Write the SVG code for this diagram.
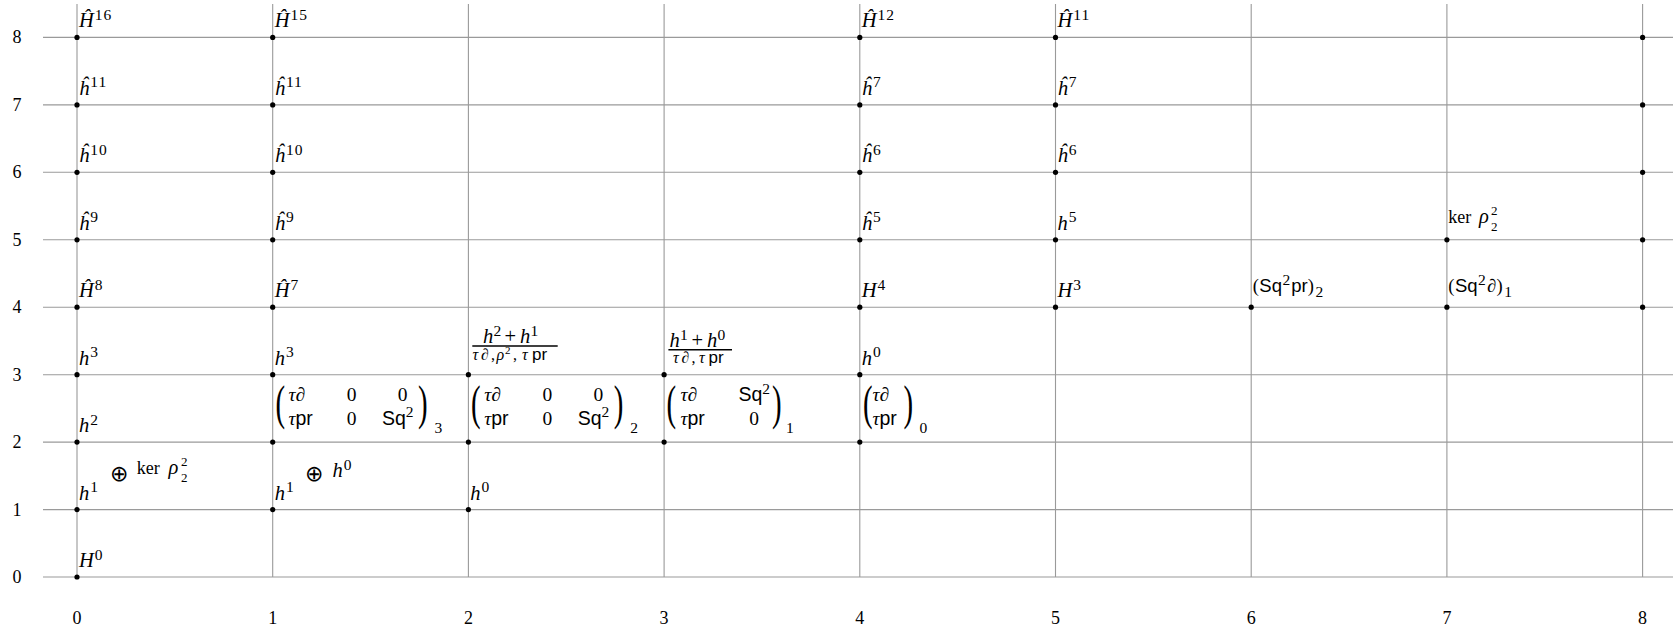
<svg xmlns="http://www.w3.org/2000/svg" width="1673" height="629" viewBox="0 0 1673 629">
<style>
.g{stroke:#9a9a9a;stroke-width:1.1;fill:none}
.d{fill:#000}
.t{font-family:"Liberation Serif",serif;font-size:20.5px;fill:#000}
.i{font-style:italic}
.s{font-size:15.5px;font-style:normal;letter-spacing:1px}
.ss{font-size:13px;font-style:normal}
.sf{font-family:"Liberation Sans",sans-serif;font-style:normal}
.ax{font-family:"Liberation Serif",serif;font-size:18px;text-anchor:middle;fill:#000}
.par{font-family:"Liberation Serif",serif;font-size:48px;fill:#000}
.op{font-family:"DejaVu Sans",sans-serif;font-size:22px;text-anchor:middle;fill:#000}
.mid{text-anchor:middle}
.mx{font-size:19.5px}
.f{font-size:16px}
.k{font-size:18px}
.lb{font-size:18.5px}
.fl{stroke:#000;stroke-width:1.5}
</style>
<rect width="1673" height="629" fill="#fff"/>
<g id="connectors">
<path class="g" d="M43 577H1673M43 509.6H1673M43 442.1H1673M43 374.7H1673M43 307.2H1673M43 239.8H1673M43 172.3H1673M43 104.9H1673M43 37.4H1673"/>
<path class="g" d="M77 4V577M272.7 4V577M468.4 4V577M664.1 4V577M859.8 4V577M1055.5 4V577M1251.2 4V577M1446.9 4V577M1642.6 4V577"/>
</g>
<g id="axes">
<text class="ax" x="17" y="583">0</text>
<text class="ax" x="17" y="515.6">1</text>
<text class="ax" x="17" y="448.1">2</text>
<text class="ax" x="17" y="380.7">3</text>
<text class="ax" x="17" y="313.2">4</text>
<text class="ax" x="17" y="245.8">5</text>
<text class="ax" x="17" y="178.3">6</text>
<text class="ax" x="17" y="110.9">7</text>
<text class="ax" x="17" y="43.4">8</text>
<text class="ax" x="77" y="624">0</text>
<text class="ax" x="272.7" y="624">1</text>
<text class="ax" x="468.4" y="624">2</text>
<text class="ax" x="664.1" y="624">3</text>
<text class="ax" x="859.8" y="624">4</text>
<text class="ax" x="1055.5" y="624">5</text>
<text class="ax" x="1251.2" y="624">6</text>
<text class="ax" x="1446.9" y="624">7</text>
<text class="ax" x="1642.6" y="624">8</text>
</g>
<!-- column 0 -->
<g id="n0-0"><circle class="d" cx="77" cy="577" r="2.6"/><text class="t i" x="79" y="567">H<tspan class="s" dx="1" dy="-7.5">0</tspan></text></g>
<g id="n0-1"><circle class="d" cx="77" cy="509.6" r="2.6"/><text class="t i" x="79" y="499.6">h<tspan class="s" dx="1" dy="-7.5">1</tspan></text></g>
<g id="n0-2"><circle class="d" cx="77" cy="442.1" r="2.6"/><text class="t i" x="79" y="432.1">h<tspan class="s" dx="1" dy="-7.5">2</tspan></text></g>
<g id="n0-3"><circle class="d" cx="77" cy="374.7" r="2.6"/><text class="t i" x="79" y="364.7">h<tspan class="s" dx="1" dy="-7.5">3</tspan></text></g>
<g id="n0-4"><circle class="d" cx="77" cy="307.2" r="2.6"/><text class="t i" x="79" y="297.2">Ĥ<tspan class="s" dx="1" dy="-7.5">8</tspan></text></g>
<g id="n0-5"><circle class="d" cx="77" cy="239.8" r="2.6"/><text class="t i" x="79" y="229.8">ĥ<tspan class="s" dx="1" dy="-7.5">9</tspan></text></g>
<g id="n0-6"><circle class="d" cx="77" cy="172.3" r="2.6"/><text class="t i" x="79" y="162.3">ĥ<tspan class="s" dx="1" dy="-7.5">10</tspan></text></g>
<g id="n0-7"><circle class="d" cx="77" cy="104.9" r="2.6"/><text class="t i" x="79" y="94.9">ĥ<tspan class="s" dx="1" dy="-7.5">11</tspan></text></g>
<g id="n0-8"><circle class="d" cx="77" cy="37.4" r="2.6"/><text class="t i" x="79" y="27.4">Ĥ<tspan class="s" dx="1" dy="-7.5">16</tspan></text></g>
<g id="sum0"><text class="op" x="119.2" y="480.5">⊕</text><text class="t k" x="136.7" y="474">ker</text><text class="t i" x="168.5" y="474">ρ</text><text class="t ss" x="181" y="466">2</text><text class="t ss" x="181" y="481.5">2</text></g>
<!-- column 1 -->
<g id="n1-1"><circle class="d" cx="272.7" cy="509.6" r="2.6"/><text class="t i" x="274.7" y="499.6">h<tspan class="s" dx="1" dy="-7.5">1</tspan></text></g>
<g id="n1-2"><circle class="d" cx="272.7" cy="442.1" r="2.6"/></g>
<g id="n1-3"><circle class="d" cx="272.7" cy="374.7" r="2.6"/><text class="t i" x="274.7" y="364.7">h<tspan class="s" dx="1" dy="-7.5">3</tspan></text></g>
<g id="n1-4"><circle class="d" cx="272.7" cy="307.2" r="2.6"/><text class="t i" x="274.7" y="297.2">Ĥ<tspan class="s" dx="1" dy="-7.5">7</tspan></text></g>
<g id="n1-5"><circle class="d" cx="272.7" cy="239.8" r="2.6"/><text class="t i" x="274.7" y="229.8">ĥ<tspan class="s" dx="1" dy="-7.5">9</tspan></text></g>
<g id="n1-6"><circle class="d" cx="272.7" cy="172.3" r="2.6"/><text class="t i" x="274.7" y="162.3">ĥ<tspan class="s" dx="1" dy="-7.5">10</tspan></text></g>
<g id="n1-7"><circle class="d" cx="272.7" cy="104.9" r="2.6"/><text class="t i" x="274.7" y="94.9">ĥ<tspan class="s" dx="1" dy="-7.5">11</tspan></text></g>
<g id="n1-8"><circle class="d" cx="272.7" cy="37.4" r="2.6"/><text class="t i" x="274.7" y="27.4">Ĥ<tspan class="s" dx="1" dy="-7.5">15</tspan></text></g>
<g id="sum1"><text class="op" x="314.3" y="480.5">⊕</text><text class="t i" x="332.5" y="477">h<tspan class="s" dx="1" dy="-7.5">0</tspan></text></g>
<g id="mat3">
<text class="par" transform="translate(275.4,419.3) scale(0.6,1)">(</text>
<text class="t i mx" x="288.5" y="401">τ∂</text>
<text class="t mx" x="288.5" y="424.5"><tspan class="i">τ</tspan><tspan class="sf">pr</tspan></text>
<text class="t mid mx" x="351.7" y="401">0</text>
<text class="t mid mx" x="351.7" y="424.5">0</text>
<text class="t mid mx" x="402.7" y="401">0</text>
<text class="t mx" x="382" y="424.5"><tspan class="sf">Sq</tspan><tspan class="s" dy="-7.5">2</tspan></text>
<text class="par" transform="translate(418,419.3) scale(0.6,1)">)</text>
<text class="t s" x="434.5" y="433">3</text>
</g>
<!-- column 2 -->
<g id="n2-1"><circle class="d" cx="468.4" cy="509.6" r="2.6"/><text class="t i" x="470.2" y="499.6">h<tspan class="s" dx="1" dy="-7.5">0</tspan></text></g>
<g id="n2-2"><circle class="d" cx="468.4" cy="442.1" r="2.6"/></g>
<g id="n2-3"><circle class="d" cx="468.4" cy="374.7" r="2.6"/>
<text class="t i" x="483" y="343.3">h</text><text class="t s" x="493.5" y="336.3">2</text><text class="t" x="504.5" y="343.3">+</text><text class="t i" x="520" y="343.3">h</text><text class="t s" x="530.5" y="336.3">1</text>
<line class="fl" x1="472.3" y1="346" x2="557.7" y2="346"/>
<text class="t i f" x="472.5" y="360">τ</text><text class="t i f" x="481" y="360">∂</text><text class="t f" x="491" y="360">,</text><text class="t i f" x="496.5" y="360">ρ</text><text class="t s" x="505" y="354.3" style="font-size:11px">2</text><text class="t f" x="513" y="360">,</text><text class="t i f" x="522" y="360">τ</text><text class="t sf" x="532" y="360" style="font-size:17px">pr</text>
</g>
<g id="mat2">
<text class="par" transform="translate(471.1,419.3) scale(0.6,1)">(</text>
<text class="t i mx" x="484.2" y="401">τ∂</text>
<text class="t mx" x="484.2" y="424.5"><tspan class="i">τ</tspan><tspan class="sf">pr</tspan></text>
<text class="t mid mx" x="547.4" y="401">0</text>
<text class="t mid mx" x="547.4" y="424.5">0</text>
<text class="t mid mx" x="598.4" y="401">0</text>
<text class="t mx" x="577.7" y="424.5"><tspan class="sf">Sq</tspan><tspan class="s" dy="-7.5">2</tspan></text>
<text class="par" transform="translate(613.7,419.3) scale(0.6,1)">)</text>
<text class="t s" x="630.2" y="433">2</text>
</g>
<!-- column 3 -->
<g id="n3-2"><circle class="d" cx="664.1" cy="442.1" r="2.6"/></g>
<g id="n3-3"><circle class="d" cx="664.1" cy="374.7" r="2.6"/>
<text class="t i" x="669.5" y="347">h</text><text class="t s" x="680" y="340">1</text><text class="t" x="691.5" y="347">+</text><text class="t i" x="707" y="347">h</text><text class="t s" x="717.5" y="340">0</text>
<line class="fl" x1="668.4" y1="349.7" x2="732" y2="349.7"/>
<text class="t i f" x="673" y="363">τ</text><text class="t i f" x="681.5" y="363">∂</text><text class="t f" x="691.5" y="363">,</text><text class="t i f" x="699" y="363">τ</text><text class="t sf" x="708.5" y="363" style="font-size:17px">pr</text>
</g>
<g id="mat1">
<text class="par" transform="translate(666.6,419.3) scale(0.6,1)">(</text>
<text class="t i mx" x="680.5" y="401">τ∂</text>
<text class="t mx" x="680.5" y="424.5"><tspan class="i">τ</tspan><tspan class="sf">pr</tspan></text>
<text class="t mx" x="738.5" y="401"><tspan class="sf">Sq</tspan><tspan class="s" dy="-7.5">2</tspan></text>
<text class="t mid mx" x="754" y="424.5">0</text>
<text class="par" transform="translate(772,419.3) scale(0.6,1)">)</text>
<text class="t s" x="786" y="433">1</text>
</g>
<!-- column 4 -->
<g id="n4-2"><circle class="d" cx="859.8" cy="442.1" r="2.6"/></g>
<g id="n4-3"><circle class="d" cx="859.8" cy="374.7" r="2.6"/><text class="t i" x="861.8" y="364.7">h<tspan class="s" dx="1" dy="-7.5">0</tspan></text></g>
<g id="n4-4"><circle class="d" cx="859.8" cy="307.2" r="2.6"/><text class="t i" x="861.8" y="297.2">H<tspan class="s" dx="1" dy="-7.5">4</tspan></text></g>
<g id="n4-5"><circle class="d" cx="859.8" cy="239.8" r="2.6"/><text class="t i" x="861.8" y="229.8">ĥ<tspan class="s" dx="1" dy="-7.5">5</tspan></text></g>
<g id="n4-6"><circle class="d" cx="859.8" cy="172.3" r="2.6"/><text class="t i" x="861.8" y="162.3">ĥ<tspan class="s" dx="1" dy="-7.5">6</tspan></text></g>
<g id="n4-7"><circle class="d" cx="859.8" cy="104.9" r="2.6"/><text class="t i" x="861.8" y="94.9">ĥ<tspan class="s" dx="1" dy="-7.5">7</tspan></text></g>
<g id="n4-8"><circle class="d" cx="859.8" cy="37.4" r="2.6"/><text class="t i" x="861.8" y="27.4">Ĥ<tspan class="s" dx="1" dy="-7.5">12</tspan></text></g>
<g id="mat0">
<text class="par" transform="translate(863,419.3) scale(0.6,1)">(</text>
<text class="t i mx" x="872.5" y="401">τ∂</text>
<text class="t mx" x="872.5" y="424.5"><tspan class="i">τ</tspan><tspan class="sf">pr</tspan></text>
<text class="par" transform="translate(903.5,419.3) scale(0.6,1)">)</text>
<text class="t s" x="919.5" y="433">0</text>
</g>
<!-- column 5 -->
<g id="n5-4"><circle class="d" cx="1055.5" cy="307.2" r="2.6"/><text class="t i" x="1057.5" y="297.2">H<tspan class="s" dx="1" dy="-7.5">3</tspan></text></g>
<g id="n5-5"><circle class="d" cx="1055.5" cy="239.8" r="2.6"/><text class="t i" x="1057.5" y="229.8">h<tspan class="s" dx="1" dy="-7.5">5</tspan></text></g>
<g id="n5-6"><circle class="d" cx="1055.5" cy="172.3" r="2.6"/><text class="t i" x="1057.5" y="162.3">ĥ<tspan class="s" dx="1" dy="-7.5">6</tspan></text></g>
<g id="n5-7"><circle class="d" cx="1055.5" cy="104.9" r="2.6"/><text class="t i" x="1057.5" y="94.9">ĥ<tspan class="s" dx="1" dy="-7.5">7</tspan></text></g>
<g id="n5-8"><circle class="d" cx="1055.5" cy="37.4" r="2.6"/><text class="t i" x="1057.5" y="27.4">Ĥ<tspan class="s" dx="1" dy="-7.5">11</tspan></text></g>
<!-- column 6 -->
<g id="n6-4"><circle class="d" cx="1251.2" cy="307.2" r="2.6"/>
<text class="t lb" x="1252.7" y="292">(<tspan class="sf" dx="0.5">Sq</tspan><tspan class="s" dx="0.5" dy="-7">2</tspan><tspan class="sf" dy="7">pr</tspan>)<tspan class="s" dx="1.5" dy="4.7">2</tspan></text>
</g>
<!-- column 7 -->
<g id="n7-4"><circle class="d" cx="1446.9" cy="307.2" r="2.6"/>
<text class="t lb" x="1448.3" y="292">(<tspan class="sf" dx="0.5">Sq</tspan><tspan class="s" dx="0.5" dy="-7">2</tspan><tspan class="i" dx="0.5" dy="7">∂</tspan>)<tspan class="s" dx="1.5" dy="4.7">1</tspan></text>
</g>
<g id="n7-5"><circle class="d" cx="1446.9" cy="239.8" r="2.6"/>
<text class="t k" x="1448.3" y="223.3">ker</text><text class="t i" x="1479" y="223.3">ρ</text><text class="t ss" x="1491" y="215.3">2</text><text class="t ss" x="1491" y="230.8">2</text>
</g>
<!-- column 8 -->
<g id="n8-4"><circle class="d" cx="1642.6" cy="307.2" r="2.6"/></g>
<g id="n8-5"><circle class="d" cx="1642.6" cy="239.8" r="2.6"/></g>
<g id="n8-6"><circle class="d" cx="1642.6" cy="172.3" r="2.6"/></g>
<g id="n8-7"><circle class="d" cx="1642.6" cy="104.9" r="2.6"/></g>
<g id="n8-8"><circle class="d" cx="1642.6" cy="37.4" r="2.6"/></g>
</svg>
